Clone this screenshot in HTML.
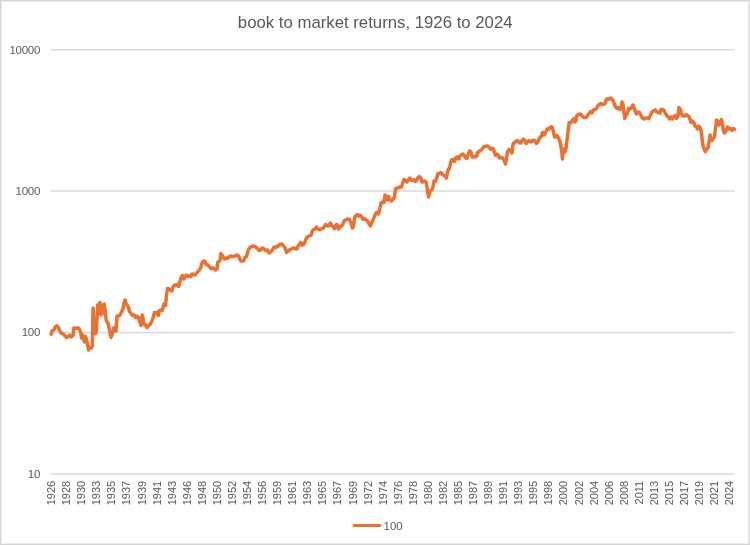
<!DOCTYPE html><html><head><meta charset="utf-8"><style>html,body{margin:0;padding:0;background:#fff;}body{width:750px;height:545px;overflow:hidden;position:relative;}svg{position:absolute;left:0;top:0;display:block;will-change:transform;}text{font-family:"Liberation Sans",Arial,sans-serif;}</style></head><body>
<svg width="750" height="545" viewBox="0 0 750 545">
<rect x="0.5" y="0.5" width="749" height="544" fill="#fff" stroke="#d4d4d4" stroke-width="1"/>
<rect x="1.5" y="1.5" width="747" height="542" fill="none" stroke="#ececec" stroke-width="1"/>
<text x="375.2" y="28" text-anchor="middle" font-size="16.75" fill="#595959">book to market returns, 1926 to 2024</text>
<line x1="50.8" y1="49.8" x2="734.6" y2="49.8" stroke="#d9d9d9" stroke-width="1.5"/>
<line x1="50.8" y1="191.1" x2="734.6" y2="191.1" stroke="#d9d9d9" stroke-width="1.5"/>
<line x1="50.8" y1="332.5" x2="734.6" y2="332.5" stroke="#d9d9d9" stroke-width="1.5"/>
<line x1="50.8" y1="473.9" x2="734.6" y2="473.9" stroke="#d9d9d9" stroke-width="1.5"/>
<text x="40" y="53.5" text-anchor="end" font-size="11.5" letter-spacing="-0.3" fill="#595959">10000</text>
<text x="40" y="194.8" text-anchor="end" font-size="11.5" letter-spacing="-0.3" fill="#595959">1000</text>
<text x="40" y="336.2" text-anchor="end" font-size="11.5" letter-spacing="-0.3" fill="#595959">100</text>
<text x="40" y="477.6" text-anchor="end" font-size="11.5" letter-spacing="-0.3" fill="#595959">10</text>
<text transform="translate(55.10,480.8) rotate(-90)" text-anchor="end" font-size="11" fill="#595959">1926</text>
<text transform="translate(70.17,480.8) rotate(-90)" text-anchor="end" font-size="11" fill="#595959">1928</text>
<text transform="translate(85.24,480.8) rotate(-90)" text-anchor="end" font-size="11" fill="#595959">1930</text>
<text transform="translate(100.31,480.8) rotate(-90)" text-anchor="end" font-size="11" fill="#595959">1933</text>
<text transform="translate(115.38,480.8) rotate(-90)" text-anchor="end" font-size="11" fill="#595959">1935</text>
<text transform="translate(130.45,480.8) rotate(-90)" text-anchor="end" font-size="11" fill="#595959">1937</text>
<text transform="translate(145.52,480.8) rotate(-90)" text-anchor="end" font-size="11" fill="#595959">1939</text>
<text transform="translate(160.59,480.8) rotate(-90)" text-anchor="end" font-size="11" fill="#595959">1941</text>
<text transform="translate(175.66,480.8) rotate(-90)" text-anchor="end" font-size="11" fill="#595959">1943</text>
<text transform="translate(190.73,480.8) rotate(-90)" text-anchor="end" font-size="11" fill="#595959">1946</text>
<text transform="translate(205.80,480.8) rotate(-90)" text-anchor="end" font-size="11" fill="#595959">1948</text>
<text transform="translate(220.87,480.8) rotate(-90)" text-anchor="end" font-size="11" fill="#595959">1950</text>
<text transform="translate(235.94,480.8) rotate(-90)" text-anchor="end" font-size="11" fill="#595959">1952</text>
<text transform="translate(251.01,480.8) rotate(-90)" text-anchor="end" font-size="11" fill="#595959">1954</text>
<text transform="translate(266.08,480.8) rotate(-90)" text-anchor="end" font-size="11" fill="#595959">1956</text>
<text transform="translate(281.15,480.8) rotate(-90)" text-anchor="end" font-size="11" fill="#595959">1959</text>
<text transform="translate(296.22,480.8) rotate(-90)" text-anchor="end" font-size="11" fill="#595959">1961</text>
<text transform="translate(311.29,480.8) rotate(-90)" text-anchor="end" font-size="11" fill="#595959">1963</text>
<text transform="translate(326.36,480.8) rotate(-90)" text-anchor="end" font-size="11" fill="#595959">1965</text>
<text transform="translate(341.43,480.8) rotate(-90)" text-anchor="end" font-size="11" fill="#595959">1967</text>
<text transform="translate(356.50,480.8) rotate(-90)" text-anchor="end" font-size="11" fill="#595959">1969</text>
<text transform="translate(371.57,480.8) rotate(-90)" text-anchor="end" font-size="11" fill="#595959">1972</text>
<text transform="translate(386.64,480.8) rotate(-90)" text-anchor="end" font-size="11" fill="#595959">1974</text>
<text transform="translate(401.71,480.8) rotate(-90)" text-anchor="end" font-size="11" fill="#595959">1976</text>
<text transform="translate(416.78,480.8) rotate(-90)" text-anchor="end" font-size="11" fill="#595959">1978</text>
<text transform="translate(431.85,480.8) rotate(-90)" text-anchor="end" font-size="11" fill="#595959">1980</text>
<text transform="translate(446.92,480.8) rotate(-90)" text-anchor="end" font-size="11" fill="#595959">1982</text>
<text transform="translate(461.99,480.8) rotate(-90)" text-anchor="end" font-size="11" fill="#595959">1985</text>
<text transform="translate(477.06,480.8) rotate(-90)" text-anchor="end" font-size="11" fill="#595959">1987</text>
<text transform="translate(492.13,480.8) rotate(-90)" text-anchor="end" font-size="11" fill="#595959">1989</text>
<text transform="translate(507.20,480.8) rotate(-90)" text-anchor="end" font-size="11" fill="#595959">1991</text>
<text transform="translate(522.27,480.8) rotate(-90)" text-anchor="end" font-size="11" fill="#595959">1993</text>
<text transform="translate(537.34,480.8) rotate(-90)" text-anchor="end" font-size="11" fill="#595959">1995</text>
<text transform="translate(552.41,480.8) rotate(-90)" text-anchor="end" font-size="11" fill="#595959">1998</text>
<text transform="translate(567.48,480.8) rotate(-90)" text-anchor="end" font-size="11" fill="#595959">2000</text>
<text transform="translate(582.55,480.8) rotate(-90)" text-anchor="end" font-size="11" fill="#595959">2002</text>
<text transform="translate(597.62,480.8) rotate(-90)" text-anchor="end" font-size="11" fill="#595959">2004</text>
<text transform="translate(612.69,480.8) rotate(-90)" text-anchor="end" font-size="11" fill="#595959">2006</text>
<text transform="translate(627.76,480.8) rotate(-90)" text-anchor="end" font-size="11" fill="#595959">2008</text>
<text transform="translate(642.83,480.8) rotate(-90)" text-anchor="end" font-size="11" fill="#595959">2011</text>
<text transform="translate(657.90,480.8) rotate(-90)" text-anchor="end" font-size="11" fill="#595959">2013</text>
<text transform="translate(672.97,480.8) rotate(-90)" text-anchor="end" font-size="11" fill="#595959">2015</text>
<text transform="translate(688.04,480.8) rotate(-90)" text-anchor="end" font-size="11" fill="#595959">2017</text>
<text transform="translate(703.11,480.8) rotate(-90)" text-anchor="end" font-size="11" fill="#595959">2019</text>
<text transform="translate(718.18,480.8) rotate(-90)" text-anchor="end" font-size="11" fill="#595959">2021</text>
<text transform="translate(733.25,480.8) rotate(-90)" text-anchor="end" font-size="11" fill="#595959">2024</text>
<path d="M51.2,334.2 L51.7,331.5 L53.0,330.5 L54.2,329.5 L55.2,327.0 L56.8,325.8 L58.5,327.5 L60.0,331.5 L61.5,333.5 L63.0,333.5 L64.5,335.5 L66.5,337.5 L68.0,336.5 L69.5,335.2 L71.2,337.0 L73.0,335.5 L73.8,328.0 L75.5,328.5 L77.5,328.0 L79.0,328.5 L80.5,332.0 L81.5,338.0 L82.5,335.0 L83.5,339.0 L84.5,342.0 L85.5,336.5 L86.5,340.0 L87.5,344.0 L88.5,350.0 L90.0,347.0 L91.5,348.0 L92.3,346.0 L92.8,320.0 L93.1,308.0 L93.7,321.0 L94.4,330.0 L95.3,333.5 L96.2,332.0 L97.0,320.0 L97.6,305.0 L98.2,314.0 L98.8,304.0 L99.4,312.0 L100.0,302.5 L100.6,310.0 L101.2,315.0 L101.8,306.0 L102.4,313.0 L103.0,305.0 L103.6,310.0 L104.2,304.0 L104.8,308.0 L105.5,314.0 L106.2,320.0 L107.0,322.0 L108.0,323.0 L109.5,330.0 L111.0,337.5 L112.5,333.0 L114.0,327.5 L116.0,331.0 L117.0,316.0 L118.5,316.0 L120.0,315.0 L121.5,312.0 L123.0,309.0 L124.2,302.0 L125.2,300.0 L126.2,304.0 L127.2,305.0 L128.5,307.5 L129.5,311.5 L131.0,313.5 L132.5,315.5 L134.0,315.0 L135.5,317.5 L137.0,316.0 L138.5,317.5 L139.5,321.0 L141.0,325.5 L142.2,315.0 L143.2,319.0 L144.0,324.0 L145.5,325.0 L147.0,327.5 L148.5,325.5 L150.0,324.5 L151.5,322.0 L153.0,318.0 L154.5,312.5 L156.0,312.5 L157.5,314.0 L158.5,315.5 L159.0,311.0 L160.5,310.0 L162.0,310.5 L163.0,308.0 L164.0,304.0 L165.5,305.5 L166.5,295.0 L167.5,288.5 L169.0,289.0 L170.5,290.0 L171.8,291.0 L173.0,287.0 L174.5,285.0 L176.0,285.5 L177.5,284.5 L178.5,286.5 L180.0,281.0 L181.0,278.0 L182.5,275.5 L184.0,279.0 L185.0,276.5 L186.5,275.0 L188.0,276.5 L189.5,276.0 L191.0,276.5 L192.0,274.0 L193.5,274.5 L195.0,275.0 L196.5,273.5 L198.0,271.5 L199.5,270.0 L201.0,267.0 L202.0,263.0 L203.5,261.0 L205.0,261.5 L206.2,264.5 L208.0,265.0 L209.5,267.0 L211.0,268.5 L212.5,268.0 L214.0,268.5 L215.5,270.0 L217.0,269.0 L217.8,262.0 L219.0,261.5 L220.0,260.0 L220.8,253.5 L222.0,255.0 L223.5,258.0 L224.5,259.0 L226.0,258.0 L227.5,258.5 L229.0,257.0 L230.5,256.0 L232.0,256.5 L233.5,256.5 L235.0,256.0 L237.0,255.0 L238.5,256.0 L239.5,258.5 L241.0,261.0 L242.5,261.0 L244.0,260.5 L245.0,257.5 L246.5,256.5 L248.0,251.0 L249.5,248.0 L251.5,246.5 L253.0,246.0 L255.0,246.5 L257.0,248.0 L259.0,250.5 L260.5,250.0 L262.5,248.0 L264.0,249.0 L265.5,250.5 L267.5,250.0 L269.0,253.0 L270.5,252.0 L272.0,250.5 L274.0,247.0 L276.0,247.5 L278.0,246.0 L280.0,244.5 L282.0,244.0 L283.5,246.0 L285.0,247.5 L286.5,252.5 L288.0,251.0 L289.5,250.0 L291.0,249.0 L293.0,248.0 L295.0,248.5 L297.0,249.0 L298.0,246.0 L299.5,244.0 L300.5,242.5 L302.0,245.0 L303.5,244.5 L305.0,242.0 L306.0,239.0 L307.0,237.0 L309.0,236.0 L311.0,235.5 L312.0,232.0 L313.0,230.0 L315.0,229.0 L316.5,227.0 L318.0,229.0 L319.5,229.5 L321.0,229.0 L322.5,228.5 L324.0,227.5 L325.5,224.5 L327.0,225.5 L328.0,226.0 L329.0,225.5 L330.5,223.0 L332.0,226.0 L333.5,227.0 L334.5,228.5 L336.0,225.0 L337.0,224.5 L338.5,229.0 L340.0,227.0 L341.5,226.0 L343.0,224.0 L344.0,221.0 L345.5,220.0 L347.5,219.0 L349.5,219.5 L351.0,223.0 L352.5,228.0 L353.5,226.0 L354.5,218.0 L356.0,215.5 L357.5,214.5 L359.0,216.0 L360.5,215.5 L361.5,216.5 L363.0,219.5 L364.5,218.5 L366.0,220.0 L367.5,221.0 L369.0,224.0 L370.5,226.0 L372.0,222.0 L373.5,219.0 L375.0,215.0 L376.5,212.5 L378.5,214.0 L379.5,210.0 L381.0,203.0 L382.5,202.0 L384.0,202.5 L385.0,195.0 L386.0,197.5 L387.5,200.0 L388.5,196.5 L390.0,199.5 L391.5,201.0 L393.0,199.5 L394.5,197.0 L395.5,188.5 L397.0,188.5 L398.5,187.5 L400.0,187.0 L401.5,187.0 L402.5,183.5 L404.0,179.5 L405.5,180.5 L407.0,182.0 L408.5,180.0 L409.8,178.0 L411.0,180.0 L412.5,180.5 L414.0,179.5 L415.5,181.5 L417.0,179.5 L418.5,177.0 L419.5,176.5 L421.0,178.5 L422.0,182.0 L423.5,181.5 L425.0,181.0 L426.0,182.0 L427.0,187.0 L428.0,194.0 L428.5,197.0 L429.5,193.0 L430.5,191.0 L432.0,189.5 L433.0,187.0 L434.0,181.0 L435.5,181.5 L437.0,177.0 L438.0,173.5 L439.5,173.5 L441.0,172.5 L442.5,174.5 L444.0,175.5 L445.5,176.5 L446.5,178.0 L447.5,172.5 L448.5,169.0 L449.5,168.0 L450.5,163.5 L451.5,160.0 L453.0,159.5 L454.5,161.5 L456.0,157.5 L457.5,157.0 L459.0,159.0 L460.0,156.0 L461.5,155.0 L463.0,154.0 L464.0,155.0 L465.5,157.5 L467.0,158.5 L468.5,153.5 L469.5,151.0 L471.0,152.0 L472.0,157.0 L473.5,157.0 L475.0,156.0 L476.5,156.5 L477.5,152.5 L479.0,151.5 L480.5,150.6 L482.0,149.3 L483.5,146.8 L485.0,146.8 L486.5,145.9 L488.0,146.3 L489.5,147.8 L491.0,149.2 L492.5,148.2 L493.5,149.0 L494.5,152.5 L495.5,155.5 L497.0,154.0 L498.5,155.5 L499.5,158.0 L501.0,157.5 L502.5,158.0 L504.0,160.0 L505.5,164.0 L506.5,158.0 L507.5,152.0 L509.0,149.5 L510.5,150.5 L512.0,153.0 L513.0,144.0 L514.5,142.5 L516.0,141.5 L517.5,140.5 L519.0,142.5 L520.5,143.0 L522.0,140.5 L523.5,139.0 L525.0,141.0 L526.2,143.5 L527.5,141.5 L529.0,140.5 L530.5,142.0 L532.0,141.0 L533.5,140.0 L535.0,141.0 L536.5,143.5 L538.0,141.5 L539.5,138.0 L541.0,136.5 L542.5,132.5 L544.0,135.0 L545.5,133.0 L547.0,129.0 L548.5,129.5 L550.0,127.5 L551.5,126.5 L552.5,128.0 L553.5,132.0 L554.5,137.0 L556.0,136.5 L557.0,135.5 L558.0,137.0 L559.5,140.0 L560.5,144.0 L561.5,150.0 L562.5,159.0 L563.0,150.0 L564.0,149.0 L565.0,152.0 L566.0,148.5 L567.0,140.0 L568.0,132.0 L569.2,122.5 L570.5,123.0 L572.0,121.0 L573.0,119.5 L574.0,118.5 L575.0,122.0 L576.0,120.0 L577.0,115.5 L578.5,114.5 L580.0,114.0 L581.0,114.5 L582.5,116.5 L584.0,117.5 L585.5,117.5 L587.0,116.5 L588.0,115.0 L589.0,113.5 L590.5,111.5 L592.0,113.0 L593.5,110.0 L595.0,109.5 L596.5,108.5 L598.0,105.5 L599.5,104.5 L601.0,103.5 L602.5,104.5 L604.0,104.5 L605.5,102.5 L606.5,99.0 L608.0,99.0 L609.5,99.0 L610.5,98.0 L612.0,99.0 L613.5,101.5 L614.5,104.5 L615.5,107.0 L617.0,108.5 L618.5,107.5 L620.0,109.5 L621.0,107.5 L622.0,102.0 L623.0,104.0 L624.0,112.0 L624.8,118.5 L626.0,115.0 L627.5,113.5 L628.5,108.5 L630.0,109.0 L631.5,108.0 L633.0,105.0 L634.0,107.0 L635.0,110.5 L636.5,114.0 L638.0,112.0 L639.5,112.5 L641.0,115.5 L642.5,118.0 L644.0,119.0 L645.5,118.0 L647.0,118.0 L649.0,118.5 L650.5,115.0 L652.0,112.0 L653.5,111.0 L655.0,109.8 L656.5,111.5 L658.0,112.5 L660.0,113.0 L661.0,109.5 L662.5,109.5 L664.0,110.5 L665.5,113.5 L667.0,116.0 L668.5,117.0 L669.5,119.0 L671.0,117.0 L672.5,119.0 L674.0,116.5 L675.0,115.5 L676.5,118.5 L678.0,115.5 L679.0,107.5 L680.5,109.5 L681.5,114.0 L683.0,116.0 L684.5,116.0 L686.0,114.5 L687.5,115.5 L689.0,116.5 L690.0,119.0 L691.0,122.5 L692.5,121.0 L694.0,123.0 L695.0,126.0 L696.5,127.0 L697.5,129.0 L698.5,126.0 L700.0,127.5 L701.0,130.0 L702.0,138.0 L703.0,146.0 L704.5,150.0 L705.5,151.5 L706.5,149.0 L708.0,148.0 L709.0,142.0 L710.0,135.0 L711.0,140.0 L712.0,140.5 L713.0,139.0 L714.5,137.0 L715.5,128.0 L716.5,120.0 L717.5,121.0 L718.5,125.0 L719.5,124.0 L720.5,121.5 L721.5,119.5 L722.5,124.0 L723.5,131.0 L724.5,133.0 L726.0,131.0 L727.5,127.0 L729.0,129.0 L730.5,128.5 L732.0,130.5 L733.5,128.5 L734.5,129.5" fill="none" stroke="#E97132" stroke-width="3.5" stroke-linejoin="round" stroke-linecap="round"/>
<line x1="354.0" y1="525.5" x2="380.0" y2="525.5" stroke="#E97132" stroke-width="2.9" stroke-linecap="round"/>
<text x="383.5" y="529.7" font-size="11.5" fill="#595959">100</text>
</svg></body></html>
